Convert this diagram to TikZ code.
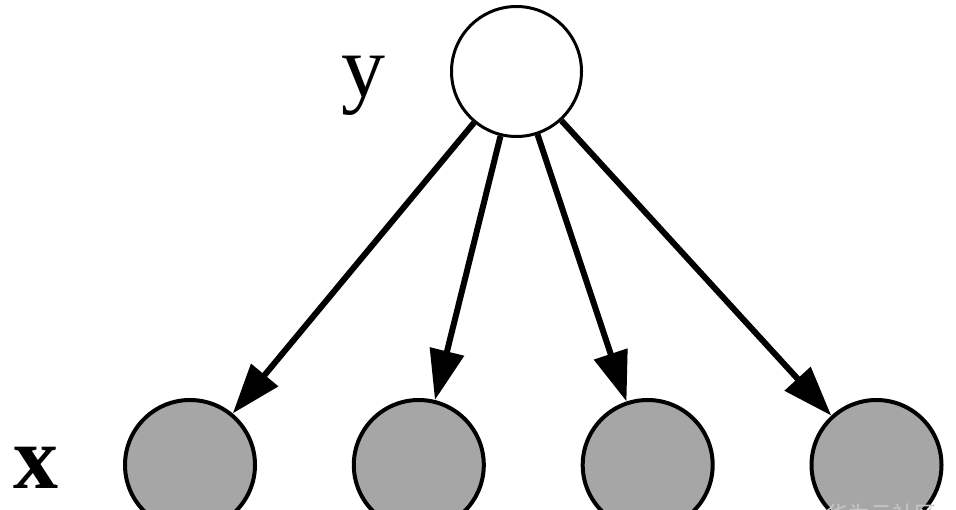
\documentclass[tikz,border=0pt]{standalone}
\usepackage{fontspec}
\setmainfont{Liberation Serif}
\newfontfamily\cjkfont{Noto Sans CJK SC}
\usepackage{xcolor}
\usetikzlibrary{arrows.meta}

\definecolor{NodeGray}{RGB}{166,166,166}

\begin{document}
\begin{tikzpicture}[x=1pt, y=-1pt,
    latent/.style={circle, draw=black, line width=3pt, fill=white, minimum size=130pt, inner sep=0},
    observed/.style={circle, draw=black, line width=4pt, fill=NodeGray, minimum size=130pt, inner sep=0},
    edge/.style={line width=6pt, -{Triangle[length=50pt, width=34pt]}}]

  \useasboundingbox (0,0) rectangle (956,510);

  \node[latent] (Y) at (516.5,71.5) {};

  \node[observed] (X1) at (190,465) {};
  \node[observed] (X2) at (418.8,465) {};
  \node[observed] (X3) at (647.7,465) {};
  \node[observed] (X4) at (876.5,465) {};

  \draw[edge] (Y) -- (X1);
  \draw[edge] (Y) -- (X2);
  \draw[edge] (Y) -- (X3);
  \draw[edge] (Y) -- (X4);

  \node[anchor=base, inner sep=0] (ylabel) at (363,97) {\fontsize{88}{88}\selectfont y};
  \node[anchor=base, inner sep=0] (xlabel) at (36,488) {\fontsize{90}{90}\selectfont\bfseries x};

  \node[anchor=north west, inner sep=0, text=black!22] (mark) at (826,504) {\fontsize{22}{22}\selectfont\cjkfont 华为云社区};

\end{tikzpicture}
\end{document}
